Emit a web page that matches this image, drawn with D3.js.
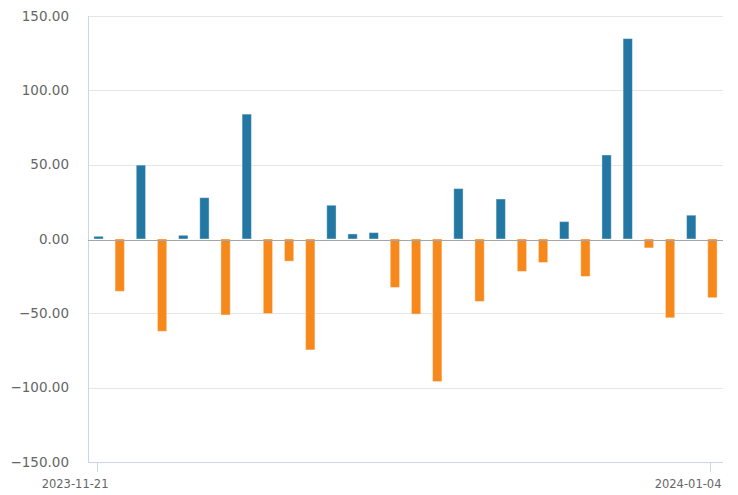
<!DOCTYPE html>
<html>
<head>
<meta charset="utf-8">
<script src="https://cdn.jsdelivr.net/npm/d3@7"></script>
<style>
  body { margin: 0; background: #fff; }
  svg { display: block; }
</style>
</head>
<body>
<svg id="svg" width="738" height="495"></svg>
<script>
let dates = ['2023-11-21', '2023-11-22', '2023-11-23', '2023-11-24', '2023-11-27', '2023-11-28',
  '2023-11-29', '2023-11-30', '2023-12-01', '2023-12-04', '2023-12-05', '2023-12-06',
  '2023-12-07', '2023-12-08', '2023-12-11', '2023-12-12', '2023-12-13', '2023-12-14',
  '2023-12-15', '2023-12-18', '2023-12-19', '2023-12-20', '2023-12-21', '2023-12-22',
  '2023-12-27', '2023-12-28', '2023-12-29', '2024-01-02', '2024-01-03', '2024-01-04'];
let values = [1.8, -35.2, 49.7, -62.1, 2.5, 27.8, -51.1, 84.0, -50.2, -14.9,
  -74.6, 22.7, 3.4, 4.3, -32.6, -50.5, -95.9, 33.9, -42.0, 26.9,
  -21.8, -15.8, 11.7, -25.2, 56.5, 134.8, -6.0, -53.0, 16.0, -39.5];
let yTicks = [-150, -100, -50, 0, 50, 100, 150];
let xLabels = ['2023-11-21', '2024-01-04'];

let margin = {top: 16, bottom: 33, left: 88, right: 15};
let svgWidth = 738;
let svgHeight = 495;
let width = svgWidth - margin.left - margin.right;
let height = svgHeight - margin.top - margin.bottom;

let svg = d3.select('#svg');
let g = svg.append('g')
  .attr('transform', `translate(${margin.left},${margin.top})`);

let xScale = d3.scaleBand()
  .domain(dates)
  .range([0, width])
  .paddingInner(0.56)
  .paddingOuter(0.28);

let yScale = d3.scaleLinear()
  .domain([-150, 150])
  .range([height, 0]);

// grid lines
g.append('g')
  .selectAll('line')
  .data(yTicks.filter(d => d !== -150 && d !== 0))
  .enter()
  .append('line')
  .attr('x1', 0)
  .attr('x2', width)
  .attr('y1', d => Math.round(yScale(d)) + 0.5)
  .attr('y2', d => Math.round(yScale(d)) + 0.5)
  .attr('stroke', '#e6e6e6')
  .attr('stroke-width', 1);

// y axis labels (no tick marks)
let yAxis = d3.axisLeft(yScale)
  .tickValues(yTicks)
  .tickSize(0)
  .tickPadding(19)
  .tickFormat(d3.format('.2f'));
let gY = g.append('g').call(yAxis);
gY.select('.domain').remove();
gY.selectAll('text')
  .attr('fill', '#666')
  .attr('font-family', 'DejaVu Sans, sans-serif')
  .attr('font-size', '13.5px');

// left axis line
g.append('line')
  .attr('x1', 0.5).attr('x2', 0.5)
  .attr('y1', 0).attr('y2', height)
  .attr('stroke', '#ccd6eb');

// bars
g.append('g')
  .selectAll('rect')
  .data(values)
  .enter()
  .append('rect')
  .attr('x', (d, i) => xScale(dates[i]))
  .attr('width', xScale.bandwidth())
  .attr('y', d => yScale(Math.max(0, d)))
  .attr('height', d => Math.abs(yScale(d) - yScale(0)))
  .attr('fill', d => d >= 0 ? '#2277a3' : '#f7891c')
  .attr('stroke', '#fff')
  .attr('stroke-opacity', 0.4)
  .attr('stroke-width', 1);

// zero line
g.append('line')
  .attr('x1', 0).attr('x2', width)
  .attr('y1', Math.round(yScale(0)) + 1.5)
  .attr('y2', Math.round(yScale(0)) + 1.5)
  .attr('stroke', '#a6a6a6');

// bottom axis line
g.append('line')
  .attr('x1', 0).attr('x2', width)
  .attr('y1', height + 0.5).attr('y2', height + 0.5)
  .attr('stroke', '#ccd6eb');

// x ticks and labels at first and last category
let gX = g.append('g');
xLabels.forEach(label => {
  let cx = Math.round(xScale(label) + xScale.bandwidth() / 2) - 1.5;
  gX.append('line')
    .attr('x1', cx).attr('x2', cx)
    .attr('y1', height).attr('y2', height + 10)
    .attr('stroke', '#ccd6eb');
  gX.append('text')
    .attr('x', cx + 11)
    .attr('y', height + 26)
    .attr('text-anchor', 'end')
    .attr('fill', '#666')
    .attr('font-family', 'DejaVu Sans, sans-serif')
    .attr('font-size', '11.5px')
    .text(label);
});
</script>
</body>
</html>
